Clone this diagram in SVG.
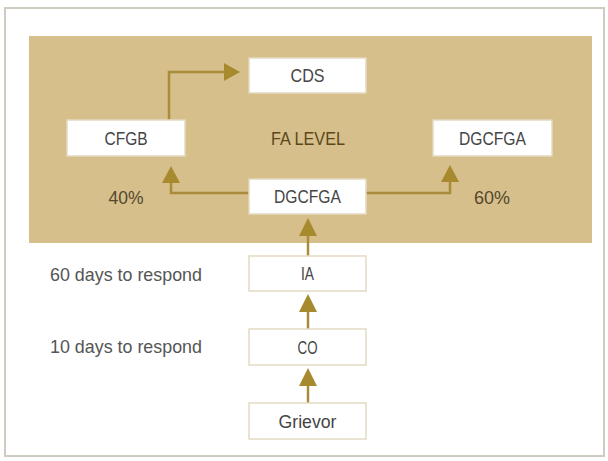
<svg xmlns="http://www.w3.org/2000/svg" width="608" height="461" viewBox="0 0 608 461">
<style>
.box{fill:#ffffff;stroke:#e3dac2;stroke-width:1.5}
.bt{font-family:"Liberation Sans",Arial,sans-serif;font-size:19px;fill:#454545;text-anchor:middle}
.lbl{font-family:"Liberation Sans",Arial,sans-serif;font-size:19px;fill:#555555}
.pct{font-family:"Liberation Sans",Arial,sans-serif;font-size:19px;fill:#54472e;text-anchor:middle}
.con{fill:none;stroke:#a88c3c;stroke-width:2.5}
.ah{fill:#a88a2e}
</style>
<rect x="0" y="0" width="608" height="461" fill="#ffffff"/>
<rect x="5" y="8" width="599" height="448" fill="#ffffff" stroke="#cfcbc0" stroke-width="2"/>
<rect id="fa-panel" x="29" y="36" width="563" height="207" fill="#d6bf8a"/>
<text x="308" y="145" class="bt" style="fill:#5a481c" textLength="74" lengthAdjust="spacingAndGlyphs">FA LEVEL</text>
<text x="126" y="204" class="pct" textLength="35" lengthAdjust="spacingAndGlyphs">40%</text>
<text x="492" y="204" class="pct" textLength="36" lengthAdjust="spacingAndGlyphs">60%</text>
<text x="50" y="281" class="lbl" textLength="152" lengthAdjust="spacingAndGlyphs">60 days to respond</text>
<text x="50" y="353" class="lbl" textLength="152" lengthAdjust="spacingAndGlyphs">10 days to respond</text>
<g id="connectors">
<path class="con" d="M169,120 V72 H225"/>
<polygon class="ah" points="240,72 224,63 224,81"/>
<path class="con" d="M249,193 H171 V182"/>
<polygon class="ah" points="171,166 162,183 180,183"/>
<path class="con" d="M366,193 H450 V182"/>
<polygon class="ah" points="450,165 441,182 459,182"/>
<path class="con" d="M308,256 V235"/>
<polygon class="ah" points="308,218 299,236 317,236"/>
<path class="con" d="M308,329 V311"/>
<polygon class="ah" points="308,294 299,312 317,312"/>
<path class="con" d="M308,403 V385"/>
<polygon class="ah" points="308,368 299,386 317,386"/>
</g>
<g id="cds"><rect class="box" x="249" y="58" width="117" height="35"/><text class="bt" x="307.5" y="82" textLength="34" lengthAdjust="spacingAndGlyphs">CDS</text></g>
<g id="cfgb"><rect class="box" x="67" y="120" width="118" height="36"/><text class="bt" x="126" y="145" textLength="43" lengthAdjust="spacingAndGlyphs">CFGB</text></g>
<g id="dgcfga-right"><rect class="box" x="433" y="120" width="119" height="36"/><text class="bt" x="492.5" y="145" textLength="67" lengthAdjust="spacingAndGlyphs">DGCFGA</text></g>
<g id="dgcfga-center"><rect class="box" x="249" y="179" width="117" height="35"/><text class="bt" x="307.5" y="203" textLength="67" lengthAdjust="spacingAndGlyphs">DGCFGA</text></g>
<g id="ia"><rect class="box" x="249" y="256" width="117" height="35"/><text class="bt" x="307.5" y="280" textLength="13" lengthAdjust="spacingAndGlyphs">IA</text></g>
<g id="co"><rect class="box" x="249" y="329" width="117" height="36"/><text class="bt" x="307.5" y="354" textLength="20" lengthAdjust="spacingAndGlyphs">CO</text></g>
<g id="grievor"><rect class="box" x="249" y="403" width="117" height="36"/><text class="bt" x="307.5" y="428" textLength="58" lengthAdjust="spacingAndGlyphs">Grievor</text></g>
</svg>
